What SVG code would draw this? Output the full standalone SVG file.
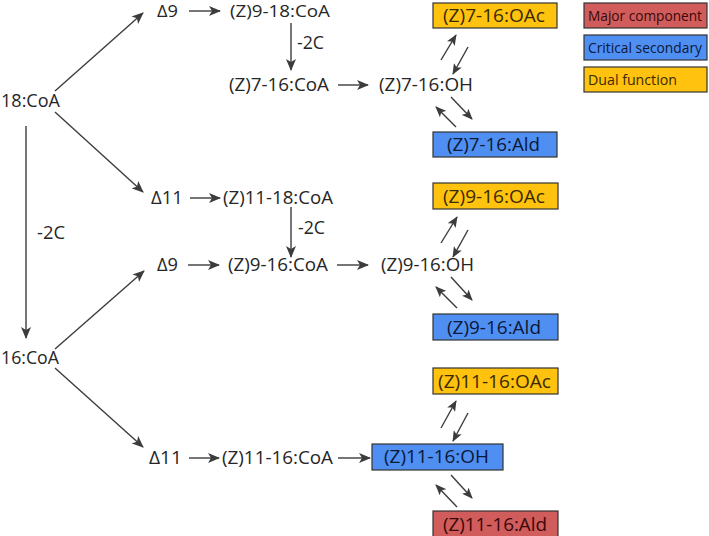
<svg xmlns="http://www.w3.org/2000/svg" width="709" height="536" viewBox="0 0 709 536">
<defs>
<marker id="ah" markerUnits="userSpaceOnUse" markerWidth="12" markerHeight="10" refX="11" refY="5" orient="auto">
<path d="M0,0 L12,5 L0,10 L3,5 z" fill="#3c3c3c"/>
</marker>
<marker id="as" markerUnits="userSpaceOnUse" markerWidth="11" markerHeight="9" refX="10" refY="4.5" orient="auto">
<path d="M0,0 L11,4.5 L0,9 L2.5,4.5 z" fill="#3c3c3c"/>
</marker>
</defs>
<style>
text{font-family:"Open Sans","Liberation Sans",sans-serif;font-size:18px;fill:#262626}
.c line{stroke:#3c3c3c;stroke-width:1.4;marker-end:url(#ah)}
.c line.s{marker-end:url(#as)}
.box{stroke:#333;stroke-width:1.2}
.maj{fill:#d05c5c}
.crit{fill:#4f8ff2}
.dual{fill:#ffc20e}
.tmaj{fill:#3a0808}
.tcrit{fill:#0c1838}
.tdual{fill:#3a2a00}
.lg{font-size:14.5px}
.top{font-size:17px}
</style>
<rect width="709" height="536" fill="#fff"/>
<g class="c" id="connectors">
<line x1="55" y1="91" x2="143" y2="13"/>
<line x1="55" y1="112" x2="143" y2="192"/>
<line x1="26" y1="126" x2="26" y2="338"/>
<line x1="55" y1="349" x2="144" y2="271"/>
<line x1="55" y1="368" x2="143" y2="447"/>
<line x1="189" y1="11" x2="220" y2="11"/>
<line x1="291" y1="23" x2="291" y2="70"/>
<line x1="338" y1="85" x2="368" y2="85"/>
<line x1="190" y1="198" x2="220" y2="198"/>
<line x1="291" y1="207" x2="291" y2="257"/>
<line x1="188" y1="265" x2="219" y2="265"/>
<line x1="337" y1="265" x2="368" y2="265"/>
<line x1="189" y1="458" x2="219" y2="458"/>
<line x1="338" y1="458" x2="370" y2="458"/>
<line class="s" x1="441" y1="60" x2="456" y2="35"/>
<line class="s" x1="468" y1="47" x2="453" y2="74"/>
<line class="s" x1="451" y1="97" x2="472" y2="119"/>
<line class="s" x1="456" y1="127" x2="436" y2="107"/>
<line class="s" x1="441" y1="243" x2="457" y2="217"/>
<line class="s" x1="468" y1="230" x2="453" y2="257"/>
<line class="s" x1="451" y1="277" x2="472" y2="300"/>
<line class="s" x1="457" y1="308" x2="436" y2="287"/>
<line class="s" x1="441" y1="428" x2="456" y2="401"/>
<line class="s" x1="468" y1="413" x2="453" y2="441"/>
<line class="s" x1="451" y1="475" x2="472" y2="498"/>
<line class="s" x1="457" y1="507" x2="436" y2="485"/>
</g>
<g id="n18CoA"><text x="1" y="107" textLength="59" lengthAdjust="spacingAndGlyphs">18:CoA</text></g>
<g id="n16CoA"><text x="1" y="364" textLength="58" lengthAdjust="spacingAndGlyphs">16:CoA</text></g>
<g id="lbl2Cleft"><text x="37" y="239" textLength="28" lengthAdjust="spacingAndGlyphs">-2C</text></g>
<g id="d9top"><text class="top" x="157" y="17" textLength="21" lengthAdjust="spacingAndGlyphs">Δ9</text></g>
<g id="z918CoA"><text class="top" x="230" y="17" textLength="100" lengthAdjust="spacingAndGlyphs">(Z)9-18:CoA</text></g>
<g id="lbl2Ctop"><text x="297" y="49" textLength="27" lengthAdjust="spacingAndGlyphs">-2C</text></g>
<g id="z716CoA"><text x="229" y="91" textLength="100" lengthAdjust="spacingAndGlyphs">(Z)7-16:CoA</text></g>
<g id="z716OH"><text x="379" y="91" textLength="94" lengthAdjust="spacingAndGlyphs">(Z)7-16:OH</text></g>
<g id="d11mid"><text x="151" y="204" textLength="32" lengthAdjust="spacingAndGlyphs">Δ11</text></g>
<g id="z1118CoA"><text x="223" y="204" textLength="110" lengthAdjust="spacingAndGlyphs">(Z)11-18:CoA</text></g>
<g id="lbl2Cmid"><text x="298" y="234" textLength="27" lengthAdjust="spacingAndGlyphs">-2C</text></g>
<g id="d9mid"><text x="157" y="271" textLength="21" lengthAdjust="spacingAndGlyphs">Δ9</text></g>
<g id="z916CoA"><text x="228" y="271" textLength="100" lengthAdjust="spacingAndGlyphs">(Z)9-16:CoA</text></g>
<g id="z916OH"><text x="381" y="271" textLength="93" lengthAdjust="spacingAndGlyphs">(Z)9-16:OH</text></g>
<g id="d11bot"><text x="149" y="464" textLength="33" lengthAdjust="spacingAndGlyphs">Δ11</text></g>
<g id="z1116CoA"><text x="222" y="464" textLength="111" lengthAdjust="spacingAndGlyphs">(Z)11-16:CoA</text></g>
<g id="z1116OH"><rect class="box crit" x="372" y="444" width="131" height="26"/><text class="tcrit" x="384" y="463" textLength="105" lengthAdjust="spacingAndGlyphs">(Z)11-16:OH</text></g>
<g id="z716OAc"><rect class="box dual" x="433" y="3" width="124" height="25"/><text class="tdual" x="443" y="22" textLength="102" lengthAdjust="spacingAndGlyphs">(Z)7-16:OAc</text></g>
<g id="z716Ald"><rect class="box crit" x="433" y="132" width="124" height="25"/><text class="tcrit" x="447" y="151" textLength="93" lengthAdjust="spacingAndGlyphs">(Z)7-16:Ald</text></g>
<g id="z916OAc"><rect class="box dual" x="433" y="183" width="125" height="26"/><text class="tdual" x="443" y="203" textLength="102" lengthAdjust="spacingAndGlyphs">(Z)9-16:OAc</text></g>
<g id="z916Ald"><rect class="box crit" x="433" y="314" width="125" height="26"/><text class="tcrit" x="447" y="334" textLength="94" lengthAdjust="spacingAndGlyphs">(Z)9-16:Ald</text></g>
<g id="z1116OAc"><rect class="box dual" x="433" y="368" width="125" height="26"/><text class="tdual" x="438" y="388" textLength="113" lengthAdjust="spacingAndGlyphs">(Z)11-16:OAc</text></g>
<g id="z1116Ald"><rect class="box maj" x="433" y="511" width="125" height="26"/><text class="tmaj" x="443" y="531" textLength="104" lengthAdjust="spacingAndGlyphs">(Z)11-16:Ald</text></g>
<g id="legMajor"><rect class="box maj" x="584" y="3" width="123" height="25"/><text class="tmaj lg" x="588" y="21" textLength="114" lengthAdjust="spacingAndGlyphs">Major component</text></g>
<g id="legCrit"><rect class="box crit" x="584" y="35" width="123" height="25"/><text class="tcrit lg" x="588" y="53" textLength="114" lengthAdjust="spacingAndGlyphs">Critical secondary</text></g>
<g id="legDual"><rect class="box dual" x="584" y="67" width="123" height="25"/><text class="tdual lg" x="588" y="85" textLength="89" lengthAdjust="spacingAndGlyphs">Dual function</text></g>
</svg>
